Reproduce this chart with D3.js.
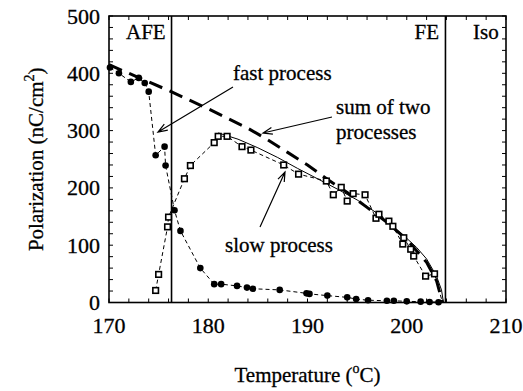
<!DOCTYPE html>
<html lang="en">
<head>
  <meta charset="UTF-8">
  <title>Polarization vs Temperature</title>
  <script src="https://d3js.org/d3.v7.min.js"></script>
  <style>
    body { margin: 0; background: #fff; }
    svg { display: block; font-family: "Liberation Serif", "DejaVu Serif", serif; }
    .frame { fill: none; stroke: #000; stroke-width: 1.6px; }
    .phase-line { stroke: #000; stroke-width: 1.6px; }
    .tick-mark { stroke: #000; stroke-width: 1px; }
    .tick-label { font-size: 22px; fill: #000; stroke: #000; stroke-width: 0.3px; }
    .note { font-size: 21px; fill: #000; stroke: #000; stroke-width: 0.3px; }
    .fast-line, .slow-line { fill: none; stroke: #000; stroke-width: 1px; stroke-dasharray: 4 3; }
    .fit-line { fill: none; stroke: #000; stroke-width: 1px; }
    .sum-line { fill: none; stroke: #000; stroke-width: 3px; stroke-dasharray: 14 8; }
    .arrow { fill: none; stroke: #000; stroke-width: 1.2px; }
  </style>
</head>
<body>
  <svg id="chart" width="523" height="391"></svg>
  <script>
    // fast process (filled circles), [T, P]
    const fastData = [
      [170.1, 410], [171.0, 400], [172.2, 385], [173.0, 392], [173.6, 383], [174.0, 368],
      [174.7, 257], [175.6, 272], [175.7, 239], [176.6, 161], [177.2, 125], [179.2, 60],
      [180.6, 32], [181.3, 32], [182.9, 29], [183.9, 26], [184.5, 24], [187.2, 22],
      [189.9, 16], [190.2, 15], [192.0, 12], [194.0, 9], [194.9, 6], [196.1, 4],
      [198.0, 3], [198.7, 3], [200.0, 2], [201.4, 1.5], [202.3, 1], [203.2, 0.5]
    ];
    // slow process (open squares)
    const slowData = [
      [174.7, 21], [175.0, 49], [175.9, 132], [176.0, 149], [177.6, 216], [178.2, 239],
      [180.6, 279], [181.0, 290], [181.9, 290], [183.4, 272], [184.3, 266], [187.6, 240],
      [189.1, 224], [191.9, 212], [192.6, 188], [193.4, 201], [194.0, 177], [194.6, 190],
      [195.8, 188], [196.9, 147], [197.2, 154], [198.2, 142], [198.6, 133], [199.6, 102],
      [199.7, 113], [200.4, 93], [200.7, 81], [201.9, 46], [202.8, 50]
    ];
    const slowTail = [[203.6, 0]];
    // solid fit curve of the slow process
    const fitCurve = [
      [181, 296], [183, 285], [185, 270], [187, 253], [189, 234], [191, 216], [193, 198],
      [195, 179], [197, 156], [199, 127], [200, 112], [201, 96], [202, 76], [203, 46],
      [203.5, 22], [203.7, 0]
    ];
    // thick dashed: sum of two processes
    const sumCurve = [
      [170, 415], [172, 400], [174, 385], [176, 370], [178, 354], [180, 338], [182, 321],
      [184, 304], [186, 284], [188, 262], [190, 240], [192, 215], [194, 192], [196, 166],
      [198, 140], [200, 110], [202, 70], [203, 38], [203.6, 0]
    ];
    const phaseBounds = [176.3, 203.9];
    const xTicks = [170, 180, 190, 200, 210];
    const yTicks = [0, 100, 200, 300, 400, 500];

    const svg = d3.select('#chart');
    const mLeft = 109, mRight = 506, mTop = 16, mBottom = 302.5;
    const x = d3.scaleLinear().domain([170, 210]).range([mLeft, mRight]);
    const y = d3.scaleLinear().domain([0, 500]).range([mBottom, mTop]);

    // minor inside ticks on all four sides
    const g = svg.append('g');
    d3.range(170, 210.1, 2).forEach(t => {
      g.append('line').attr('class', 'tick-mark')
        .attr('x1', x(t)).attr('x2', x(t)).attr('y1', mBottom).attr('y2', mBottom - 4);
      g.append('line').attr('class', 'tick-mark')
        .attr('x1', x(t)).attr('x2', x(t)).attr('y1', mTop).attr('y2', mTop + 4);
    });
    d3.range(0, 500.1, 20).forEach(v => {
      g.append('line').attr('class', 'tick-mark')
        .attr('x1', mLeft).attr('x2', mLeft + 4).attr('y1', y(v)).attr('y2', y(v));
      g.append('line').attr('class', 'tick-mark')
        .attr('x1', mRight).attr('x2', mRight - 4).attr('y1', y(v)).attr('y2', y(v));
    });

    svg.selectAll('.xlab').data(xTicks).enter().append('text')
      .attr('class', 'tick-label').attr('text-anchor', 'middle')
      .attr('x', d => x(d)).attr('y', 333).text(d => d);
    svg.selectAll('.ylab').data(yTicks).enter().append('text')
      .attr('class', 'tick-label').attr('text-anchor', 'end')
      .attr('x', 100).attr('y', d => y(d) + 7.5).text(d => d);

    // phase boundaries
    svg.selectAll('.phase-line').data(phaseBounds).enter().append('line')
      .attr('class', 'phase-line')
      .attr('x1', d => x(d)).attr('x2', d => x(d)).attr('y1', mTop).attr('y2', mBottom);

    const line = d3.line().x(d => x(d[0])).y(d => y(d[1]));

    svg.append('path').attr('class', 'fit-line').attr('d', line(fitCurve));
    svg.append('path').attr('class', 'slow-line').attr('d', line(slowData.concat(slowTail)));
    svg.append('path').attr('class', 'fast-line').attr('d', line(fastData));
    svg.append('path').attr('class', 'sum-line').attr('d', line(sumCurve));

    svg.selectAll('rect.sq').data(slowData).enter().append('rect')
      .attr('class', 'sq')
      .attr('x', d => x(d[0]) - 2.8).attr('y', d => y(d[1]) - 2.8)
      .attr('width', 5.6).attr('height', 5.6)
      .attr('fill', '#fff').attr('stroke', '#000').attr('stroke-width', 1.6);
    svg.selectAll('circle.dot').data(fastData).enter().append('circle')
      .attr('class', 'dot')
      .attr('cx', d => x(d[0])).attr('cy', d => y(d[1])).attr('r', 3.3)
      .attr('fill', '#000');

    svg.append('rect').attr('class', 'frame')
      .attr('x', mLeft).attr('y', mTop).attr('width', mRight - mLeft).attr('height', mBottom - mTop);

    // phase labels
    svg.append('text').attr('class', 'note').attr('x', 126).attr('y', 39).text('AFE');
    svg.append('text').attr('class', 'note').attr('x', 439).attr('y', 39).attr('text-anchor', 'end').text('FE');
    svg.append('text').attr('class', 'note').attr('x', 473).attr('y', 39).text('Iso');

    // annotations
    svg.append('text').attr('class', 'note').attr('x', 233).attr('y', 80).text('fast process');
    svg.append('text').attr('class', 'note').attr('x', 336).attr('y', 114).text('sum of two');
    svg.append('text').attr('class', 'note').attr('x', 336).attr('y', 139).text('processes');
    svg.append('text').attr('class', 'note').attr('x', 225).attr('y', 252).text('slow process');

    function arrow(x1, y1, x2, y2) {
      const a = Math.atan2(y2 - y1, x2 - x1), L = 10, w = 0.35;
      const p1 = [x2 - L * Math.cos(a - w), y2 - L * Math.sin(a - w)];
      const p2 = [x2 - L * Math.cos(a + w), y2 - L * Math.sin(a + w)];
      svg.append('path').attr('class', 'arrow')
        .attr('d', `M${x1},${y1}L${x2},${y2}M${p1}L${x2},${y2}L${p2}`);
    }
    arrow(233, 87, 158, 132);
    arrow(332, 117, 263, 133);
    arrow(260, 227, 285, 172);

    // axis titles
    const xt = svg.append('text').attr('class', 'note').attr('text-anchor', 'middle')
      .attr('x', (mLeft + mRight) / 2).attr('y', 382);
    xt.append('tspan').text('Temperature (');
    xt.append('tspan').attr('dy', -9).attr('font-size', 14).text('o');
    xt.append('tspan').attr('dy', 9).text('C)');

    const yt = svg.append('text').attr('class', 'note').attr('text-anchor', 'middle')
      .attr('transform', `translate(43,${(mTop + mBottom) / 2}) rotate(-90)`);
    yt.append('tspan').text('Polarization (nC/cm');
    yt.append('tspan').attr('dy', -9).attr('font-size', 14).text('2');
    yt.append('tspan').attr('dy', 9).text(')');
  </script>
</body>
</html>
